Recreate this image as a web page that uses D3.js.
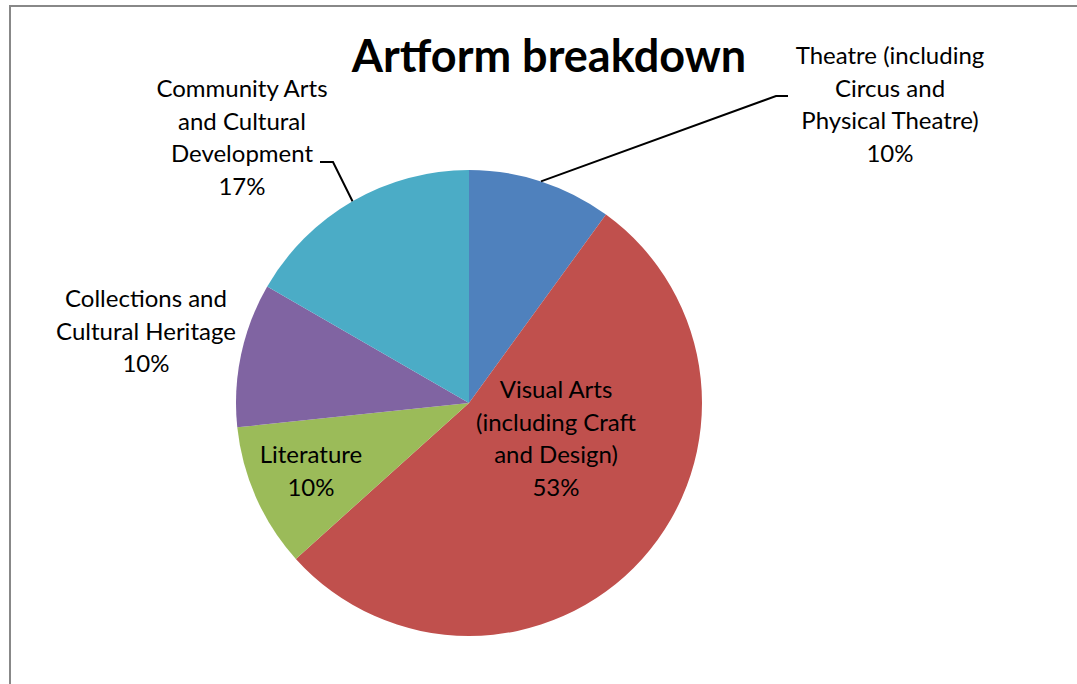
<!DOCTYPE html>
<html>
<head>
<meta charset="utf-8">
<script src="https://cdn.jsdelivr.net/npm/d3@7"></script>
<style>
  body { margin: 0; background: #fff; }
  text { font-family: Lato, "Open Sans", sans-serif; fill: #000; }
</style>
</head>
<body>
<div id="chart"></div>
<script>
// data ///////////////////////////////////////////////
var categories = [
    "Theatre (including Circus and Physical Theatre)",
    "Visual Arts (including Craft and Design)",
    "Literature",
    "Collections and Cultural Heritage",
    "Community Arts and Cultural Development"
];
var counts = [3, 16, 3, 3, 5];
var labelLines = [
    ["Theatre (including", "Circus and", "Physical Theatre)"],
    ["Visual Arts", "(including Craft", "and Design)"],
    ["Literature"],
    ["Collections and", "Cultural Heritage"],
    ["Community Arts", "and Cultural", "Development"]
];
var colors = ["#4F81BD", "#C0504D", "#9BBB59", "#8064A2", "#4BACC6"];

// layout (label anchor = centre x, first baseline y)
var width = 1077, height = 684;
var cx = 469, cy = 403, radius = 233;
var labelPos = [
    {x: 890, y: 64},
    {x: 556, y: 398},
    {x: 311, y: 463},
    {x: 146, y: 307},
    {x: 242, y: 97}
];
var lineH = 32.5;

var svg = d3.select("#chart")
            .append("svg")
            .attr("width", width)
            .attr("height", height);

// chart frame (only top + left edges visible)
svg.append("path")
   .attr("d", "M10," + height + " V6 H" + width)
   .attr("fill", "none")
   .attr("stroke", "#888")
   .attr("stroke-width", 2);

// title
svg.append("text")
   .attr("x", 549)
   .attr("y", 72)
   .attr("text-anchor", "middle")
   .style("font-size", "45px")
   .style("font-weight", "bold")
   .text("Artform breakdown");

var total = d3.sum(counts);
var pct = d3.format(".0%");

var pie = d3.pie()
            .sort(null)
            .value(function(d) { return d; });

var arc = d3.arc()
            .innerRadius(0)
            .outerRadius(radius);

var arcs = pie(counts);

var g = svg.append("g")
           .attr("transform", "translate(" + cx + "," + cy + ")");

g.selectAll("path.slice")
 .data(arcs)
 .enter().append("path")
 .attr("class", "slice")
 .attr("d", arc)
 .attr("fill", function(d, i) { return colors[i]; });

// leader lines for the outside labels, starting at the slice's mid angle on the rim
var leaders = [
    {i: 0, elbow: [776, 96], end: [788, 96]},
    {i: 4, elbow: [333, 162], end: [320, 162]}
];
leaders.forEach(function(l) {
    var a = arcs[l.i];
    var mid = (a.startAngle + a.endAngle) / 2;
    var px = cx + radius * Math.sin(mid),
        py = cy - radius * Math.cos(mid);
    svg.append("path")
       .attr("d", "M" + px + "," + py + " L" + l.elbow + " L" + l.end)
       .attr("fill", "none")
       .attr("stroke", "#000")
       .attr("stroke-width", 2);
});

// labels
arcs.forEach(function(a, i) {
    var lines = labelLines[i].concat([pct(counts[i] / total)]);
    var t = svg.append("text")
               .attr("text-anchor", "middle")
               .style("font-size", "24px");
    lines.forEach(function(s, k) {
        t.append("tspan")
         .attr("x", labelPos[i].x)
         .attr("y", labelPos[i].y + k * lineH)
         .text(s);
    });
});
</script>
</body>
</html>
